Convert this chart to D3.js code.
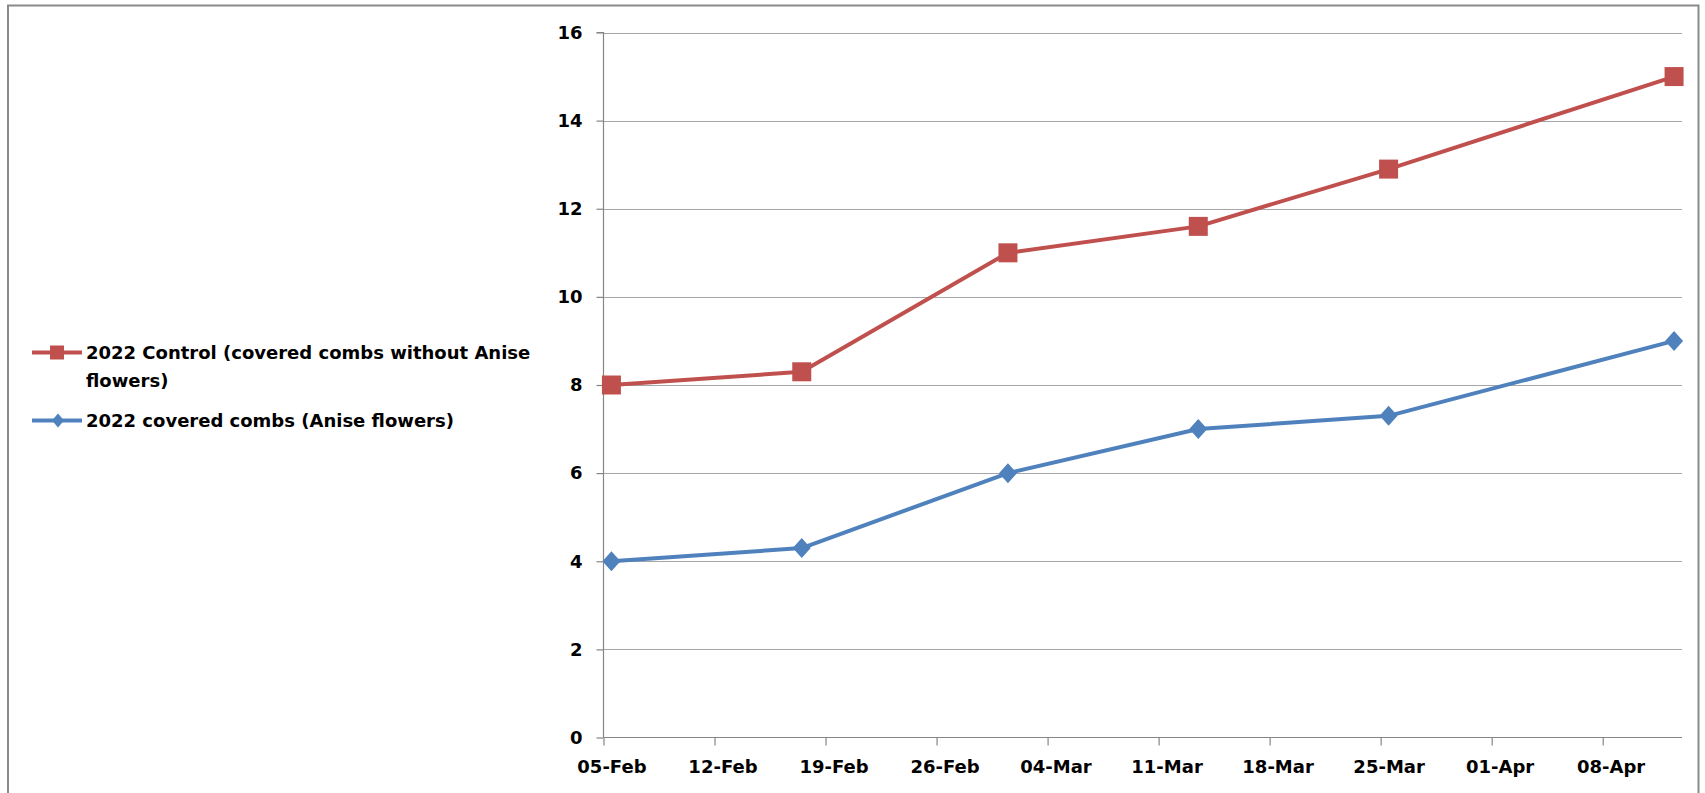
<!DOCTYPE html>
<html>
<head>
<meta charset="utf-8">
<script src="https://cdn.jsdelivr.net/npm/d3@7"></script>
<style>
  html, body { margin: 0; padding: 0; background: #fff; }
  svg { display: block; }
  text { font-family: "DejaVu Sans", sans-serif; font-weight: bold; fill: #000; }
</style>
</head>
<body>
<svg id="chart" width="1705" height="793"></svg>
<script>
// ---- data ----
const dates = ["2024-02-05", "2024-02-17", "2024-03-01", "2024-03-13", "2024-03-25", "2024-04-12"];
const controlValues = [8, 8.3, 11, 11.6, 12.9, 15];
const anisValues = [4, 4.3, 6, 7, 7.3, 9];
const seriesNames = ["2022 Control (covered combs without Anise flowers)", "2022 covered combs (Anise flowers)"];
const legendLines = [["2022 Control (covered combs without Anise", "flowers)"], ["2022 covered combs (Anise flowers)"]];
const xTickDates = ["2024-02-05", "2024-02-12", "2024-02-19", "2024-02-26", "2024-03-04", "2024-03-11", "2024-03-18", "2024-03-25", "2024-04-01", "2024-04-08"];
const yTicks = [0, 2, 4, 6, 8, 10, 12, 14, 16];
const xDomain = ["2024-02-05", "2024-04-13"];

const colors = ["#C0504D", "#4F81BD"];

(function () {
const svg = d3.select("#chart");
const parse = d3.utcParse("%Y-%m-%d");
const DAY = 864e5;
const FONT = "'DejaVu Sans', sans-serif";

// chart border
svg.append("rect")
  .attr("x", 8).attr("y", 5.5).attr("width", 1690.5).attr("height", 820)
  .attr("fill", "none").attr("stroke", "#8a8a8a").attr("stroke-width", 2);

const pLeft = 603.5, pRight = 1682, pTop = 32.5, pBottom = 737.5;

const x = d3.scaleUtc().domain(xDomain.map(parse)).range([pLeft, pRight]);
const y = d3.scaleLinear().domain([0, 16]).range([pBottom, pTop]);
const halfDay = (x(new Date(parse(xDomain[0]).getTime() + DAY)) - x(parse(xDomain[0]))) / 2;
const xc = d => x(parse(d)) + halfDay;

// gridlines
svg.append("g").selectAll("line").data(yTicks.filter(v => v > 0)).join("line")
  .attr("x1", pLeft).attr("x2", pRight)
  .attr("y1", d => Math.round(y(d)) + 0.5).attr("y2", d => Math.round(y(d)) + 0.5)
  .attr("stroke", "#a6a6a6").attr("stroke-width", 1.2);

// y axis
const yAxis = svg.append("g").attr("transform", `translate(${pLeft},0)`)
  .call(d3.axisLeft(y).tickValues(yTicks).tickSize(7).tickPadding(14).tickFormat(d3.format("d")));
yAxis.select(".domain").attr("stroke", "#868686").attr("stroke-width", 1.2).attr("d", `M-7,${pTop}H0V${pBottom}`);
yAxis.selectAll(".tick line").attr("stroke", "#868686").attr("stroke-width", 1.2);
yAxis.selectAll(".tick text").attr("font-size", 18).attr("font-family", FONT).attr("font-weight", "bold").attr("fill", "#000");

// x axis
const xAxis = svg.append("g").attr("transform", `translate(0,${pBottom})`)
  .call(d3.axisBottom(x).tickValues(xTickDates.map(parse)).tickSize(8).tickSizeOuter(0)
    .tickFormat(d3.utcFormat("%d-%b")));
xAxis.select(".domain").attr("stroke", "#868686").attr("stroke-width", 1.2).attr("d", `M${pLeft},0H${pRight}`);
xAxis.selectAll(".tick line").attr("stroke", "#868686").attr("stroke-width", 1.2);
xAxis.selectAll(".tick text").attr("x", halfDay).attr("y", 23)
  .attr("font-size", 18).attr("font-family", FONT).attr("font-weight", "bold").attr("fill", "#000");

// series
const line = d3.line().x(d => xc(d.date)).y(d => y(d.value));
const seriesData = [controlValues, anisValues].map(vals => vals.map((v, i) => ({ date: dates[i], value: v })));

seriesData.forEach((data, si) => {
  svg.append("path").datum(data).attr("d", line)
    .attr("fill", "none").attr("stroke", colors[si]).attr("stroke-width", 4)
    .attr("stroke-linejoin", "round");
});
// markers
const sq = d3.symbol().type(d3.symbolSquare).size(19 * 19);
svg.append("g").selectAll("path").data(seriesData[0]).join("path")
  .attr("transform", d => `translate(${xc(d.date)},${y(d.value)})`)
  .attr("d", sq).attr("fill", colors[0]);
svg.append("g").selectAll("path").data(seriesData[1]).join("path")
  .attr("transform", d => `translate(${xc(d.date)},${y(d.value)})`)
  .attr("d", "M0,-10L9,0L0,10L-9,0Z").attr("fill", colors[1]);

// legend
const legend = svg.append("g");
const legendY = [352.5, 420.5];
const lineSpacing = 27.5;
legendLines.forEach((lines, i) => {
  const g = legend.append("g").attr("transform", `translate(0,${legendY[i]})`);
  g.append("line").attr("x1", 32).attr("x2", 82).attr("y1", 0).attr("y2", 0)
    .attr("stroke", colors[i]).attr("stroke-width", 4);
  if (i === 0) {
    g.append("rect").attr("x", 50).attr("y", -7).attr("width", 14).attr("height", 14).attr("fill", colors[i]);
  } else {
    g.append("path").attr("d", "M58,-7L64,0L58,7L52,0Z").attr("fill", colors[i]);
  }
  const t = g.append("text").attr("x", 86).attr("y", 6.5).attr("font-size", 18).attr("font-family", FONT);
  lines.forEach((ln, j) => {
    t.append("tspan").attr("x", 86).attr("dy", j === 0 ? 0 : lineSpacing).text(ln);
  });
});
})();
</script>
</body>
</html>
